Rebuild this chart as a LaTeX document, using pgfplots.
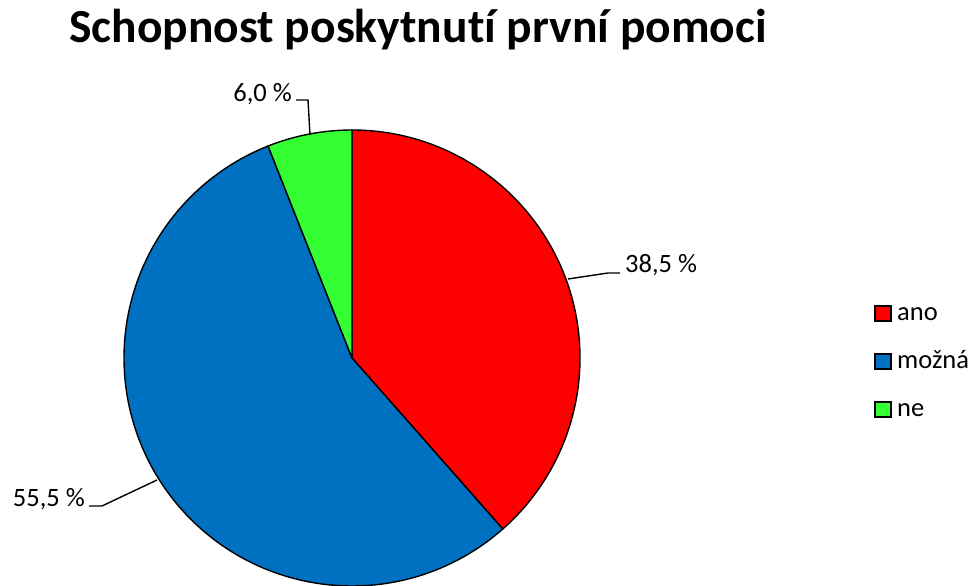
\documentclass[border=0pt]{standalone}
\usepackage{pgfplots}
\usepackage{pgfplotstable}
\pgfplotsset{compat=1.18}
\usepackage{fontspec}
\setmainfont{Carlito}[Ligatures=NoCommon]
\definecolor{cano}{HTML}{FF0000}
\definecolor{cmozna}{HTML}{0070C0}
\definecolor{cne}{HTML}{33FF33}
\pgfplotstableread{
label value
ano 38.5
mozna 55.5
ne 6.0
}\piedata
\begin{document}
\begin{tikzpicture}
\pgfplotstablegetelem{0}{value}\of\piedata \let\va\pgfplotsretval
\pgfplotstablegetelem{1}{value}\of\piedata \let\vb\pgfplotsretval
\pgfplotstablegetelem{2}{value}\of\piedata \let\vc\pgfplotsretval
\pgfmathsetmacro\aA{90}
\pgfmathsetmacro\aB{90-3.6*\va}
\pgfmathsetmacro\aC{\aB-3.6*\vb}
\pgfmathsetmacro\aD{\aC-3.6*\vc}
\begin{axis}[
  at={(0,0)}, anchor=origin,
  scale only axis, width=978pt, height=586pt,
  xmin=0, xmax=978, ymin=0, ymax=586,
  hide axis, clip=false,
]
% pie slices (centre 352,228; radius 228)
\filldraw[fill=cano, draw=black, line width=1.4pt, line join=round]
  (axis cs:352,228) -- ++(\aA:228pt) arc[start angle=\aA, end angle=\aB, radius=228pt] -- cycle;
\filldraw[fill=cmozna, draw=black, line width=1.4pt, line join=round]
  (axis cs:352,228) -- ++(\aB:228pt) arc[start angle=\aB, end angle=\aC, radius=228pt] -- cycle;
\filldraw[fill=cne, draw=black, line width=1.4pt, line join=round]
  (axis cs:352,228) -- ++(\aC:228pt) arc[start angle=\aC, end angle=\aD, radius=228pt] -- cycle;
% leader lines and data labels
\draw[line width=1.4pt] (axis cs:568,307) -- (axis cs:608,313) -- (axis cs:620,313);
\node[anchor=base west, inner sep=0pt, font=\fontsize{26.5}{31}\selectfont] at (axis cs:625,313) {38,5~\%};
\draw[line width=1.4pt] (axis cs:157,106) -- (axis cs:102,80) -- (axis cs:89,80);
\node[anchor=base east, inner sep=0pt, font=\fontsize{26.5}{31}\selectfont] at (axis cs:85,79) {55,5~\%};
\draw[line width=1.4pt] (axis cs:310,451) -- (axis cs:308,486) -- (axis cs:296,486);
\node[anchor=base east, inner sep=0pt, font=\fontsize{26.5}{31}\selectfont] at (axis cs:292,484) {6,0~\%};
% title
\node[anchor=base, inner sep=0pt, font=\fontsize{47.5}{56}\selectfont\bfseries] at (axis cs:418,543) {Schopnost poskytnutí první pomoci};
% legend
\filldraw[fill=cano, draw=black, line width=1.2pt] (axis cs:875,265) rectangle (axis cs:891,280);
\node[anchor=base west, inner sep=0pt, font=\fontsize{26.5}{31}\selectfont] at (axis cs:897,265) {ano};
\filldraw[fill=cmozna, draw=black, line width=1.2pt] (axis cs:875,217) rectangle (axis cs:891,232);
\node[anchor=base west, inner sep=0pt, font=\fontsize{26.5}{31}\selectfont] at (axis cs:897,217) {možná};
\filldraw[fill=cne, draw=black, line width=1.2pt] (axis cs:875,169) rectangle (axis cs:891,184);
\node[anchor=base west, inner sep=0pt, font=\fontsize{26.5}{31}\selectfont] at (axis cs:897,169) {ne};
\end{axis}
\pgfresetboundingbox
\useasboundingbox (0,0) rectangle (978pt,586pt);
\end{tikzpicture}
\end{document}
